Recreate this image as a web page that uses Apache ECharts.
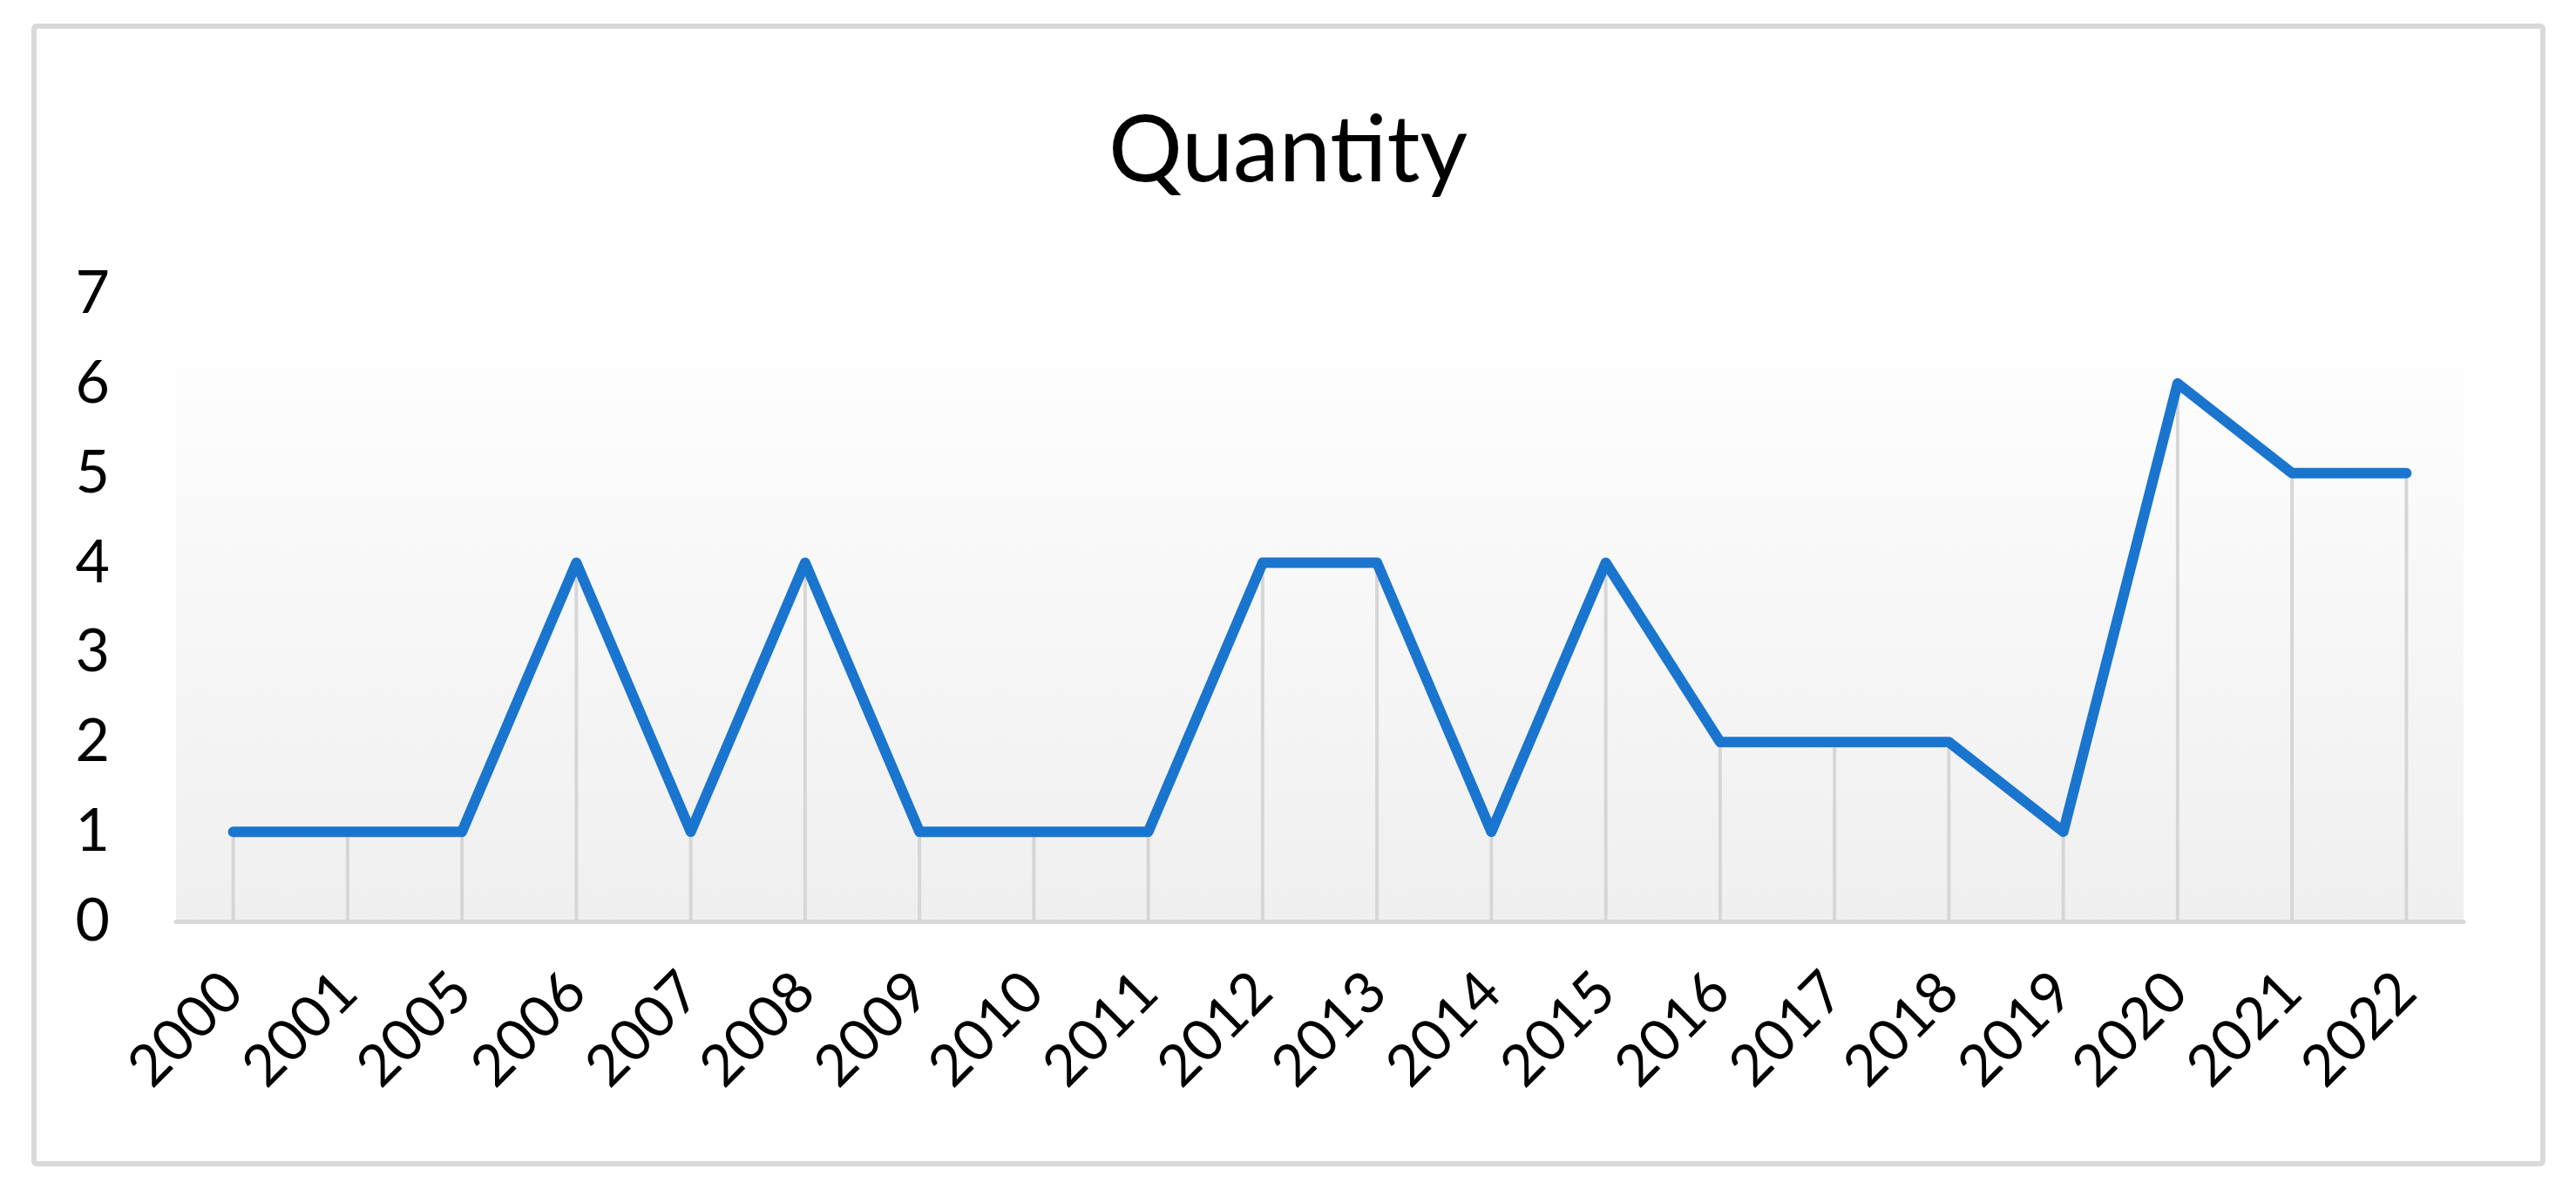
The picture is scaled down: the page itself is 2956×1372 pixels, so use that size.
<!DOCTYPE html>
<html>
<head>
<meta charset="utf-8">
<title>Quantity</title>
<script src="https://cdn.jsdelivr.net/npm/echarts@6/dist/echarts.min.js"></script>
<style>
  html, body { margin: 0; padding: 0; background: #fff; }
  #chart { width: 2956px; height: 1372px; }
</style>
</head>
<body>
<div id="chart"></div>
<script>
// data
const years = ['2000', '2001', '2005', '2006', '2007', '2008', '2009', '2010', '2011', '2012',
  '2013', '2014', '2015', '2016', '2017', '2018', '2019', '2020', '2021', '2022']
const quantity = [1, 1, 1, 4, 1, 4, 1, 1, 1, 4, 4, 1, 4, 2, 2, 2, 1, 6, 5, 5]
const yTicks = [0, 1, 2, 3, 4, 5, 6, 7]

const font = 'Lato'
const chart = echarts.init(document.getElementById('chart'))

chart.setOption({
  animation: false,
  backgroundColor: '#fff',
  title: {
    text: 'Quantity',
    left: 'center',
    top: 116,
    textStyle: { fontFamily: font, fontSize: 106, fontWeight: 'normal', color: '#000' }
  },
  graphic: [{
    type: 'rect',
    silent: true,
    shape: { x: 39, y: 30, width: 2879, height: 1305, r: 3 },
    style: { fill: 'none', stroke: '#d9d9d9', lineWidth: 6 }
  }],
  grid: {
    left: 202,
    right: 129,
    top: 337,
    bottom: 315,
    show: true,
    borderWidth: 0,
    // plot area fill, white on top fading to light grey
    backgroundColor: {
      type: 'linear', x: 0, y: 0, x2: 0, y2: 1,
      colorStops: [
        { offset: 0, color: '#ffffff' },
        { offset: 0.117, color: '#ffffff' },
        { offset: 0.118, color: '#fdfdfd' },
        { offset: 1, color: '#efefef' }
      ]
    }
  },
  xAxis: {
    type: 'category',
    data: years,
    boundaryGap: true,
    axisLine: { lineStyle: { color: '#d9d9d9', width: 5 } },
    axisTick: { show: false },
    axisLabel: {
      rotate: 45,
      margin: 70,
      interval: 0,
      fontFamily: font,
      fontSize: 66,
      color: '#000'
    },
    splitLine: { show: false }
  },
  yAxis: {
    type: 'value',
    min: yTicks[0],
    max: yTicks[yTicks.length - 1],
    interval: 1,
    axisLine: { show: false },
    axisTick: { show: false },
    splitLine: { show: false },
    axisLabel: {
      margin: 76,
      fontFamily: font,
      fontSize: 68,
      color: '#000'
    }
  },
  series: [
    {
      // drop lines from each point to the axis
      name: 'drop',
      type: 'bar',
      data: quantity,
      barWidth: 4,
      itemStyle: { color: '#d6d6d6' },
      silent: true,
      z: 1
    },
    {
      name: 'Quantity',
      type: 'line',
      data: quantity,
      symbol: 'none',
      lineStyle: { color: '#1a75cf', width: 12, cap: 'round', join: 'round' },
      z: 3
    }
  ]
})
</script>
</body>
</html>
